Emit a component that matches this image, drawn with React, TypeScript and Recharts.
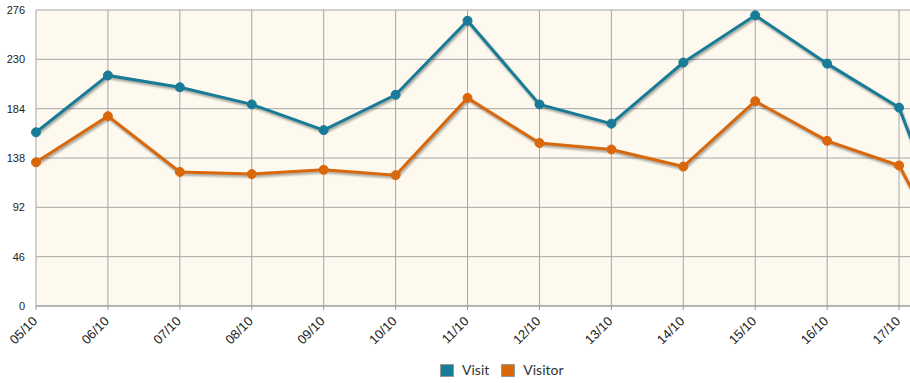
import { LineChart, Line, XAxis, YAxis, CartesianGrid, Legend } from "recharts";

const days = ["05/10", "06/10", "07/10", "08/10", "09/10", "10/10", "11/10", "12/10", "13/10", "14/10", "15/10", "16/10", "17/10", "18/10"];
const visit = [162, 215, 204, 188, 164, 197, 266, 188, 170, 227, 271, 226, 185, 10];
const visitor = [134, 177, 125, 123, 127, 122, 194, 152, 146, 130, 191, 154, 131, 5];
const yTicks = [0, 46, 92, 138, 184, 230, 276];

const data = days.map((d, i) => ({ day: d, visit: visit[i], visitor: visitor[i] }));

const BLUE = "#187c98";
const ORANGE = "#d9680d";

const DayTick = ({ x, y, payload }: { x?: number; y?: number; payload?: { value: string } }) => (
  <text
    x={0}
    y={0}
    transform={`translate(${(x ?? 0) + 2},${(y ?? 0) + 10}) rotate(-45)`}
    textAnchor="end"
    fontSize={13}
    fontFamily="'Liberation Sans', Arial, sans-serif"
    fill="#222"
  >
    {payload?.value}
  </text>
);

const LegendBox = () => (
  <div style={{ height: 26, paddingLeft: 440, boxSizing: "border-box", display: "flex", alignItems: "center", fontFamily: "Lato, 'Open Sans', sans-serif", fontSize: 14, lineHeight: "16px", color: "#333" }}>
    {[["Visit", BLUE], ["Visitor", ORANGE]].map(([name, c]) => (
      <span key={name} style={{ display: "flex", alignItems: "center", marginRight: 12 }}>
        <span style={{ width: 12, height: 11, background: c, border: "1px solid #999", display: "inline-block", marginRight: 8 }} />
        {name}
      </span>
    ))}
  </div>
);

export default function App() {
  return (
    <div style={{ position: "absolute", left: 0, top: 0, width: 910, height: 383, overflow: "hidden", background: "#fff" }}>
      <style>{`.shadowed .recharts-line-curve { filter: drop-shadow(1.5px 2px 1px rgba(0,0,0,0.35)); }`}</style>
      <LineChart width={976} height={383} data={data} margin={{ top: 10, right: 5, left: 0, bottom: 0 }}>
        <CartesianGrid stroke="#a6a6a6" fill="#fdf9ee" />
        <XAxis
          dataKey="day"
          interval={0}
          height={51}
          tickSize={4}
          stroke="#999"
          tick={<DayTick />}
        />
        <YAxis
          width={36}
          domain={[0, 276]}
          ticks={yTicks}
          axisLine={false}
          tickLine={false}
          tickMargin={5}
          tick={{ fontSize: 11, fill: "#222", fontFamily: "'Liberation Sans', Arial, sans-serif" }}
        />
        <Legend verticalAlign="bottom" height={26} content={<LegendBox />} wrapperStyle={{ left: 0, width: 910 }} />
        <Line className="shadowed" dataKey="visitor" stroke={ORANGE} strokeWidth={3} dot={{ r: 4.5, fill: ORANGE, stroke: ORANGE, strokeWidth: 1 }} isAnimationActive={false} />
        <Line className="shadowed" dataKey="visit" stroke={BLUE} strokeWidth={3} dot={{ r: 4.5, fill: BLUE, stroke: BLUE, strokeWidth: 1 }} isAnimationActive={false} />
      </LineChart>
    </div>
  );
}
